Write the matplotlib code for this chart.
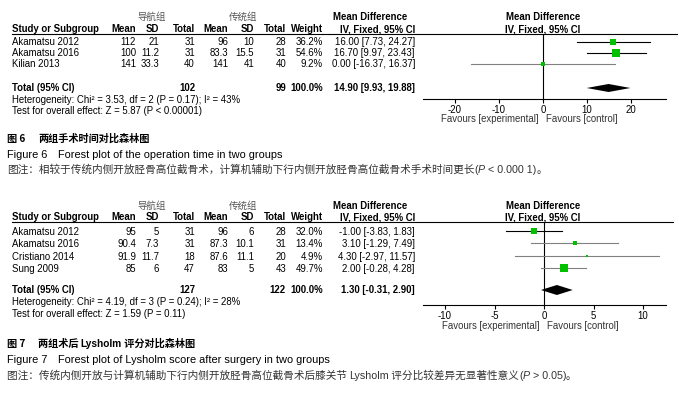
import matplotlib
matplotlib.use('Agg')
import matplotlib.pyplot as plt

plt.rcParams['axes.unicode_minus'] = False

# ---- Figure 6: operation time ----
fig6_studies = ['Akamatsu 2012', 'Akamatsu 2016', 'Kilian 2013']
fig6_nav_mean = [112, 100, 141]
fig6_nav_sd = [21, 11.2, 33.3]
fig6_nav_n = [31, 31, 40]
fig6_con_mean = [96, 83.3, 141]
fig6_con_sd = [10, 15.5, 41]
fig6_con_n = [28, 31, 40]
fig6_weight = [36.2, 54.6, 9.2]
fig6_md = [16.00, 16.70, 0.00]
fig6_lo = [7.73, 9.97, -16.37]
fig6_hi = [24.27, 23.43, 16.37]
fig6_total_n = [102, 99]
fig6_total_md = [14.90, 9.93, 19.88]
fig6_het = 'Heterogeneity: Chi\u00b2 = 3.53, df = 2 (P = 0.17); I\u00b2 = 43%'
fig6_test = 'Test for overall effect: Z = 5.87 (P < 0.00001)'
fig6_ticks = [-20, -10, 0, 10, 20]

# ---- Figure 7: Lysholm score ----
fig7_studies = ['Akamatsu 2012', 'Akamatsu 2016', 'Cristiano 2014', 'Sung 2009']
fig7_nav_mean = [95, 90.4, 91.9, 85]
fig7_nav_sd = [5, 7.3, 11.7, 6]
fig7_nav_n = [31, 31, 18, 47]
fig7_con_mean = [96, 87.3, 87.6, 83]
fig7_con_sd = [6, 10.1, 11.1, 5]
fig7_con_n = [28, 31, 20, 43]
fig7_weight = [32.0, 13.4, 4.9, 49.7]
fig7_md = [-1.00, 3.10, 4.30, 2.00]
fig7_lo = [-3.83, -1.29, -2.97, -0.28]
fig7_hi = [1.83, 7.49, 11.57, 4.28]
fig7_total_n = [127, 122]
fig7_total_md = [1.30, -0.31, 2.90]
fig7_het = 'Heterogeneity: Chi\u00b2 = 4.19, df = 3 (P = 0.24); I\u00b2 = 28%'
fig7_test = 'Test for overall effect: Z = 1.59 (P = 0.11)'
fig7_ticks = [-10, -5, 0, 5, 10]

LAT = ['Liberation Sans', 'DejaVu Sans']
CJK = ['Noto Sans CJK SC', 'DejaVu Sans']
GREEN = '#00c000'
FS = 6.9

W, H = 679, 397
fig = plt.figure(figsize=(W / 100, H / 100), dpi=100)
base = fig.add_axes([0, 0, 1, 1])
base.set_xlim(0, W)
base.set_ylim(H, 0)
base.axis('off')
renderer = fig.canvas.get_renderer()


def put(x, y, s, ha='left', bold=False, size=FS, color='black', family=LAT, style='normal'):
    # y is the visual middle of the glyphs, in pixels from the top
    yb = y + 0.36 * size * 100 / 72
    return base.text(x, yb, s, ha=ha, va='baseline', fontsize=size, color=color,
                     fontweight='bold' if bold else 'normal', family=family, fontstyle=style)


def put_runs(x, y, runs):
    for s, kw in runs:
        t = put(x, y, s, **kw)
        x += t.get_window_extent(renderer).width


COLS = [136, 159, 195, 228, 254, 286, 323]
MD_X = 415


def panel(d, L):
    # column headers
    put(152, L['grp'], '导航组', ha='center', family=CJK, color='#555555', size=6.8)
    put(243, L['grp'], '传统组', ha='center', family=CJK, color='#555555', size=6.8)
    put(333, L['grp'] + 1, 'Mean Difference', bold=True)
    put(543, L['grp'] + 1, 'Mean Difference', ha='center', bold=True)
    put(12, L['hdr'], 'Study or Subgroup', bold=True)
    for x, s in zip(COLS, ['Mean', 'SD', 'Total', 'Mean', 'SD', 'Total', 'Weight']):
        put(x, L['hdr'], s, ha='right', bold=True)
    put(MD_X, L['hdr'], 'IV, Fixed, 95% CI', ha='right', bold=True)
    put(543, L['hdr'], 'IV, Fixed, 95% CI', ha='center', bold=True)
    base.plot([12, L['hend']], [L['line'], L['line']], color='black', lw=0.8)

    # study rows
    for i, name in enumerate(d['studies']):
        y = L['rows'][i]
        vals = ['%g' % d['nav_mean'][i], '%g' % d['nav_sd'][i], '%d' % d['nav_n'][i],
                '%g' % d['con_mean'][i], '%g' % d['con_sd'][i], '%d' % d['con_n'][i],
                '%.1f%%' % d['weight'][i]]
        put(12, y, name)
        for x, s in zip(COLS, vals):
            put(x, y, s, ha='right')
        put(MD_X, y, '%.2f [%.2f, %.2f]' % (d['md'][i], d['lo'][i], d['hi'][i]), ha='right')

    # total row
    yt = L['total']
    put(12, yt, 'Total (95% CI)', bold=True)
    put(COLS[2], yt, '%d' % d['total_n'][0], ha='right', bold=True)
    put(COLS[5], yt, '%d' % d['total_n'][1], ha='right', bold=True)
    put(COLS[6], yt, '100.0%', ha='right', bold=True)
    put(MD_X, yt, '%.2f [%.2f, %.2f]' % tuple(d['total_md']), ha='right', bold=True)
    put(12, L['het'], d['het'])
    put(12, L['test'], d['test'])

    # forest axes, y in image pixels
    ax = fig.add_axes([L['x0'] / W, 1 - L['axis'] / H,
                       (L['x1'] - L['x0']) / W, (L['axis'] - L['line']) / H])
    ax.set_facecolor('none')
    ax.set_xlim((L['x0'] - L['zero']) / L['ppu'], (L['x1'] - L['zero']) / L['ppu'])
    ax.set_ylim(L['axis'], L['line'])
    for side in ['top', 'left', 'right']:
        ax.spines[side].set_visible(False)
    ax.spines['bottom'].set_linewidth(0.8)
    ax.set_yticks([])
    ax.set_xticks(d['ticks'])
    ax.set_xticklabels(['%g' % t for t in d['ticks']], family=LAT, fontsize=FS)
    ax.tick_params(axis='x', length=3, width=0.8, pad=1, direction='out')
    ax.axvline(0, color='black', lw=0.8)

    for i in range(len(d['studies'])):
        y = L['rows'][i] - 0.5
        ax.plot([d['lo'][i], d['hi'][i]], [y, y], color=L['ci_colors'][i], lw=0.8, zorder=2)
        side = 1.1 * d['weight'][i] ** 0.5
        ax.plot(d['md'][i], y, marker='s', ms=side * 0.72, color=GREEN, mec=GREEN, mew=0, zorder=3)

    md, lo, hi = d['total_md']
    h = L['dia_h']
    ax.fill([lo, md, hi, md], [yt, yt - h, yt, yt + h], color='black', lw=0, zorder=3)

    put(L['zero'] - 4, L['fav'], 'Favours [experimental]', ha='right', color='#333333')
    put(L['zero'] + 3, L['fav'], 'Favours [control]', color='#333333')


def caption(L, num, title_runs, english, note_runs):
    y1, y2, y3 = L['cap']
    put(7, y1, '图 %d' % num, family=CJK, bold=True, size=7.3)
    put_runs(38, y1, title_runs)
    put(7, y2, 'Figure %d' % num, size=7.9)
    put(58, y2, english, size=7.9)
    put_runs(7, y3, note_runs)


fig6 = dict(studies=fig6_studies, nav_mean=fig6_nav_mean, nav_sd=fig6_nav_sd, nav_n=fig6_nav_n,
            con_mean=fig6_con_mean, con_sd=fig6_con_sd, con_n=fig6_con_n, weight=fig6_weight,
            md=fig6_md, lo=fig6_lo, hi=fig6_hi, total_n=fig6_total_n, total_md=fig6_total_md,
            het=fig6_het, test=fig6_test, ticks=fig6_ticks)
fig7 = dict(studies=fig7_studies, nav_mean=fig7_nav_mean, nav_sd=fig7_nav_sd, nav_n=fig7_nav_n,
            con_mean=fig7_con_mean, con_sd=fig7_con_sd, con_n=fig7_con_n, weight=fig7_weight,
            md=fig7_md, lo=fig7_lo, hi=fig7_hi, total_n=fig7_total_n, total_md=fig7_total_md,
            het=fig7_het, test=fig7_test, ticks=fig7_ticks)

L6 = dict(grp=16, hdr=29, line=34, rows=[42, 53, 64], total=88, het=100, test=111,
          axis=99, fav=119, x0=423, x1=666, zero=543, ppu=4.4, hend=677, dia_h=4,
          ci_colors=['black', 'black', '#808080'], cap=[138, 154, 169])
L7 = dict(grp=205, hdr=217, line=222, rows=[232, 244, 257, 269], total=290, het=302, test=314,
          axis=305, fav=326, x0=423, x1=666, zero=544, ppu=9.9, hend=673, dia_h=5,
          ci_colors=['black', '#808080', '#808080', '#808080'], cap=[343, 359, 375])

panel(fig6, L6)
panel(fig7, L7)

NOTE = dict(family=CJK, size=7.65, color='#333333')
NOTE_L = dict(family=LAT, size=7.65, color='#333333')
NOTE_I = dict(family=LAT, size=7.65, color='#333333', style='italic')
TITLE = dict(family=CJK, size=7.3, bold=True)
TITLE_L = dict(family=LAT, size=7.3, bold=True)

caption(L6, 6, [('两组手术时间对比森林图', TITLE)],
        'Forest plot of the operation time in two groups',
        [('图注：相较于传统内侧开放胫骨高位截骨术，计算机辅助下行内侧开放胫骨高位截骨术手术时间更长', NOTE),
         ('(', NOTE_L), ('P', NOTE_I), (' < 0.000 1)', NOTE_L), ('。', NOTE)])
caption(L7, 7, [('两组术后 ', TITLE), ('Lysholm', TITLE_L), (' 评分对比森林图', TITLE)],
        'Forest plot of Lysholm score after surgery in two groups',
        [('图注：传统内侧开放与计算机辅助下行内侧开放胫骨高位截骨术后膝关节 ', NOTE),
         ('Lysholm', NOTE_L), (' 评分比较差异无显著性意义', NOTE),
         ('(', NOTE_L), ('P', NOTE_I), (' > 0.05)', NOTE_L), ('。', NOTE)])

fig.savefig('out.png', dpi=100)
